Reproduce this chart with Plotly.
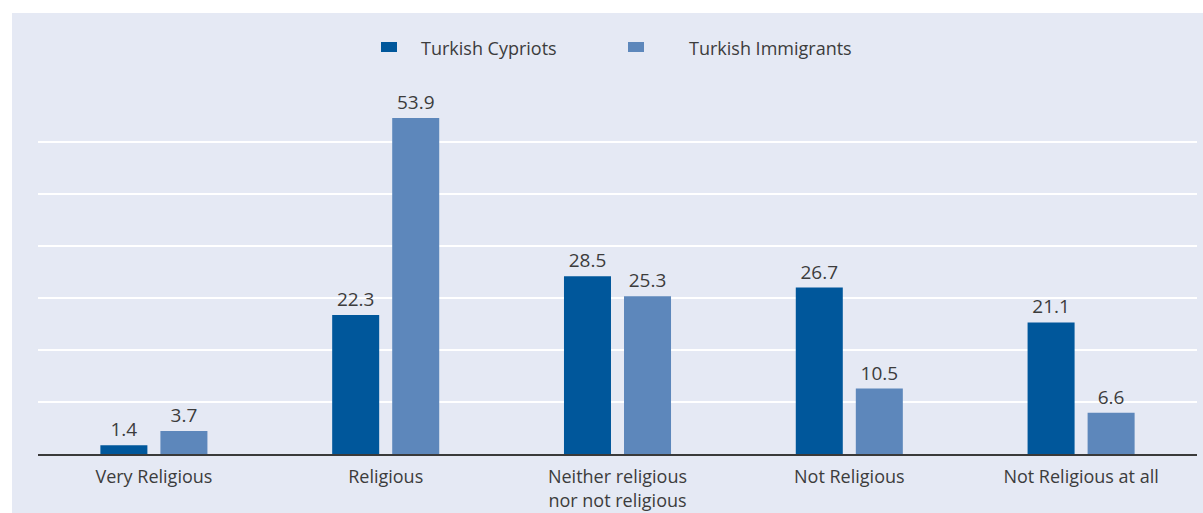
import plotly.graph_objects as go

categories = [
    "Very Religious",
    "Religious",
    "Neither religious<br>nor not religious",
    "Not Religious",
    "Not Religious at all",
]
cypriots = [1.4, 22.3, 28.5, 26.7, 21.1]
immigrants = [3.7, 53.9, 25.3, 10.5, 6.6]
series_names = ["Turkish Cypriots", "Turkish Immigrants"]
grid_values = [50 * i / 6 for i in range(1, 7)]

DARK = "#00579b"
LIGHT = "#5d87bb"
BG = "#e5e9f4"
TEXT = "#3c3c3c"
FONT = "Open Sans"

W, H = 1203, 513
ML, MR, MT, MB = 38, 6, 13, 59
plot_w = W - ML - MR
plot_h = H - MT - MB
px_per_unit = 6.234
y_max = plot_h / px_per_unit


def px_x(px):
    return (px - ML) / plot_w


def px_y(py):
    return 1 - (py - MT) / plot_h


fig = go.Figure()
for name, vals, color in [
    (series_names[0], cypriots, DARK),
    (series_names[1], immigrants, LIGHT),
]:
    fig.add_trace(go.Bar(
        name=name,
        x=categories,
        y=vals,
        marker=dict(color=color, line=dict(width=0)),
        text=[f"{v:.1f}" for v in vals],
        textposition="outside",
        textfont=dict(family=FONT, size=19, color=TEXT),
        cliponaxis=False,
        showlegend=False,
    ))

# white frame strips outside the tinted panel (top and left edges)
fig.add_shape(type="rect", xref="paper", yref="paper",
              x0=px_x(0), x1=px_x(W), y0=px_y(13), y1=px_y(0),
              fillcolor="white", line=dict(width=0), layer="below")
fig.add_shape(type="rect", xref="paper", yref="paper",
              x0=px_x(0), x1=px_x(12), y0=px_y(H), y1=px_y(0),
              fillcolor="white", line=dict(width=0), layer="below")

# legend: swatch + label per series
legend_items = [
    (series_names[0], DARK, 381, 419),
    (series_names[1], LIGHT, 628, 687),
]
for name, color, sx, tx in legend_items:
    fig.add_shape(type="rect", xref="paper", yref="paper",
                  x0=px_x(sx), x1=px_x(sx + 16), y0=px_y(52), y1=px_y(42),
                  fillcolor=color, line=dict(width=0))
    fig.add_annotation(xref="paper", yref="paper",
                       x=px_x(tx), y=px_y(48), xanchor="left", yanchor="middle",
                       text=name, showarrow=False,
                       font=dict(family=FONT, size=18, color=TEXT))

fig.update_layout(
    width=W, height=H,
    margin=dict(l=ML, r=MR, t=MT, b=MB, pad=0, autoexpand=False),
    paper_bgcolor=BG,
    plot_bgcolor=BG,
    barmode="group",
    bargap=0.482,
    bargroupgap=0.217,
    font=dict(family=FONT, size=18, color=TEXT),
    showlegend=False,
    xaxis=dict(
        type="category",
        automargin=False,
        showgrid=False,
        showline=True,
        linecolor="#3a3a3a",
        linewidth=1.5,
        ticks="",
        ticklabelstandoff=6,
        tickfont=dict(family=FONT, size=18, color=TEXT),
    ),
    yaxis=dict(
        range=[0, y_max],
        automargin=False,
        tickvals=grid_values,
        showticklabels=False,
        showgrid=True,
        gridcolor="white",
        gridwidth=1.5,
        zeroline=False,
        showline=False,
    ),
)

fig.write_html("out.html")
